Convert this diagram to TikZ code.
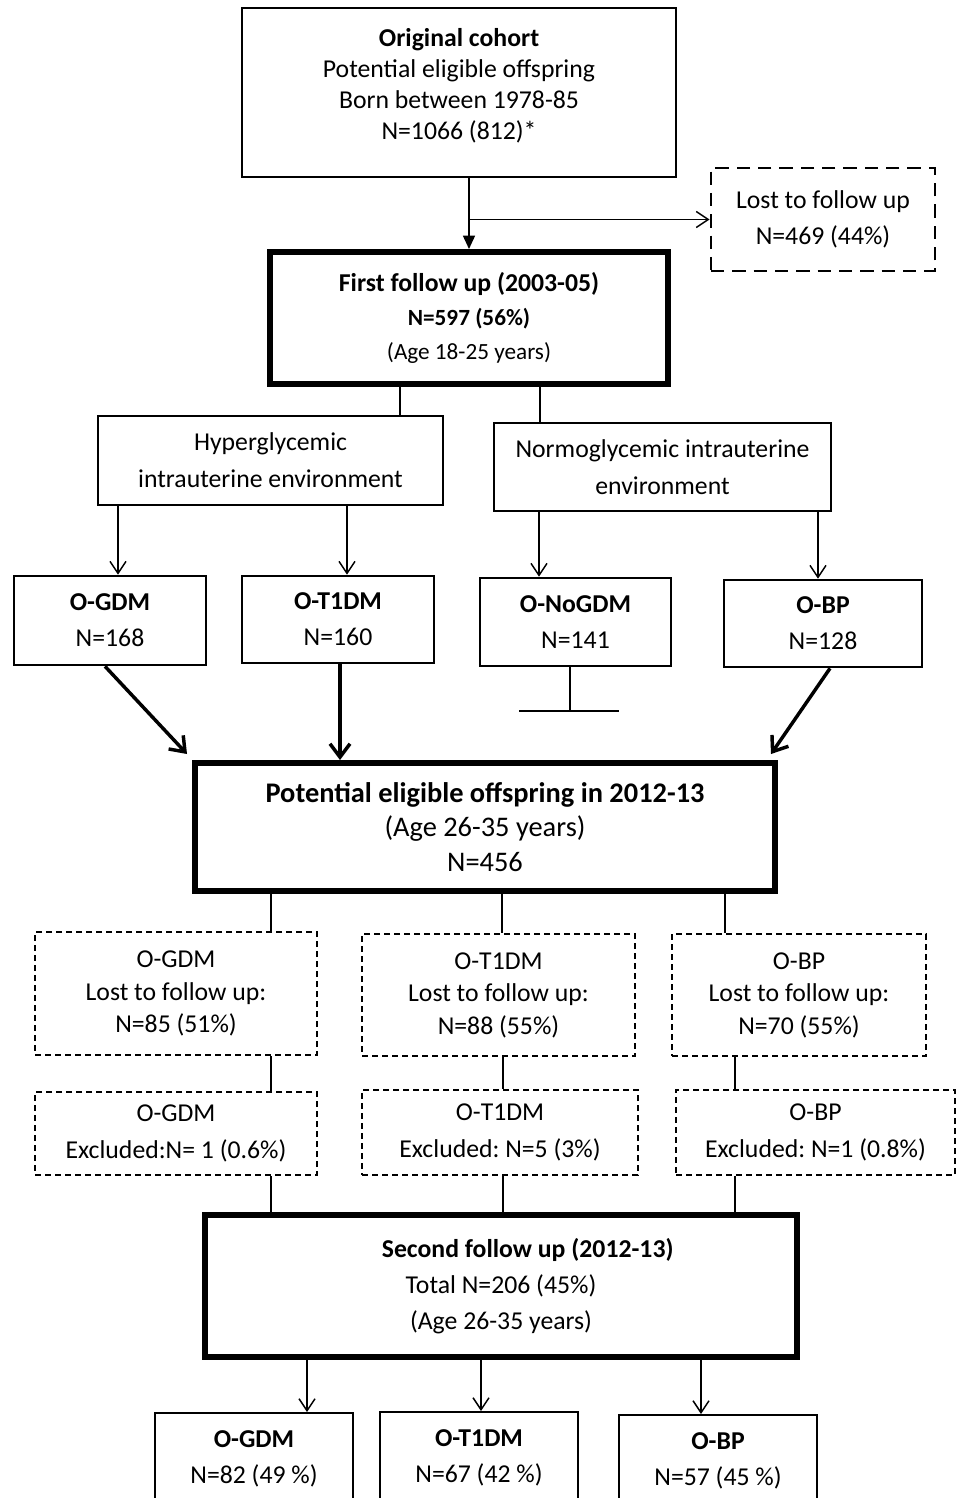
\documentclass[tikz,border=0pt]{standalone}
\usepackage{fontspec}
\setmainfont{Carlito}
\usetikzlibrary{arrows.meta,calc}
\frenchspacing

\begin{document}
\begin{tikzpicture}[x=0.75pt,y=-0.75pt,line width=1.1pt,
  sz/.style 2 args={minimum width=#1*0.75pt,minimum height=#2*0.75pt},
  box/.style={draw,line width=2pt,inner sep=0pt,align=center,font=\fontsize{19.3}{27}\selectfont},
  heavy/.style={box,line width=4.5pt},
  lostbox/.style={box,line width=1.4pt,dash pattern=on 4.5pt off 3pt},
  arr/.style={-{Straight Barb[length=9pt,width=12pt]}},
  bigarr/.style={line width=2.6pt,-{Straight Barb[length=10pt,width=15pt]}}]
\path[use as bounding box] (0,0) rectangle (956,1498);
\clip (0,0) rectangle (956,1498);
% first follow up
\node[box,line width=1.7pt,sz={434}{169},font=\fontsize{19.3}{23.25}\selectfont] (orig) at (459,92.5) {\textbf{Original cohort}\\Potential eligible offspring\\Born between 1978-85\\N=1066 (812)*\\[-11pt]\mbox{}};
\node[box,line width=2.2pt,dash pattern=on 10pt off 6pt,sz={224}{103}] (lost) at (823,219.5) {Lost to follow up\\N=469 (44\%)};
\node[heavy,sz={398}{132},font=\fontsize{17.4}{25.5}\selectfont] (first) at (469,318) {{\fontsize{19.3}{25.5}\selectfont\textbf{First follow up (2003-05)}}\\\textbf{N=597 (56\%)}\\(Age 18-25 years)};
\draw[-{Triangle[length=10pt,width=9pt]}] (first.north |- orig.south) -- (first.north);
\draw[arr] (first.north |- lost.west) -- (lost.west);
% intrauterine environment
\node[box,line width=1.5pt,sz={345}{89},font=\fontsize{19.3}{27.75}\selectfont] (hyp) at (270.5,460.5) {Hyperglycemic\\intrauterine environment};
\node[box,line width=1.5pt,sz={337}{88},font=\fontsize{19.3}{27.75}\selectfont] (nor) at (662.5,467) {Normoglycemic intrauterine\\environment};
\draw (400,0 |- first.south) -- (400,0 |- hyp.north);
\draw (540,0 |- first.south) -- (540,0 |- nor.north);
\node[box,sz={192}{89}] (gdm) at (110,620.5) {\textbf{O-GDM}\\N=168};
\node[box,sz={192}{87}] (t1dm) at (338,619.5) {\textbf{O-T1DM}\\N=160};
\node[box,sz={191}{88}] (nogdm) at (575.5,622) {\textbf{O-NoGDM}\\N=141};
\node[box,sz={198}{87}] (bp) at (823,623.5) {\textbf{O-BP}\\N=128};
\draw[arr] (118,0 |- hyp.south) -- (118,0 |- gdm.north);
\draw[arr] (347,0 |- hyp.south) -- (347,0 |- t1dm.north);
\draw[arr] (539,0 |- nor.south) -- (539,0 |- nogdm.north);
\draw[arr] (818,0 |- nor.south) -- (818,0 |- bp.north);
\coordinate (stop) at (570,711);
\draw (nogdm.south -| stop) -- (stop);
\draw ($(stop)+(-51,0)$) -- ($(stop)+(49,0)$);
% 2012-13
\node[heavy,sz={580}{128},font=\fontsize{21.3}{25.9}\selectfont] (pot) at (485,827) {\textbf{Potential eligible offspring in 2012-13}\\(Age 26-35 years)\\N=456};
\draw[bigarr] (105,0 |- gdm.south) -- ($(pot.north west)+(-5,-6)$);
\draw[bigarr] (340,0 |- t1dm.south) -- (340,0 |- pot.north);
\draw[bigarr] (830,0 |- bp.south) -- ($(pot.north east)+(-7,-6)$);
\node[lostbox,sz={282}{123},font=\fontsize{19.3}{24.4}\selectfont] (lgdm) at (176,993.5) {O-GDM\\Lost to follow up:\\N=85 (51\%)};
\node[lostbox,sz={273}{122},font=\fontsize{19.3}{24.4}\selectfont] (lt1dm) at (498.5,995) {O-T1DM\\Lost to follow up:\\N=88 (55\%)};
\node[lostbox,sz={254}{122},font=\fontsize{19.3}{24.4}\selectfont] (lbp) at (799,995) {O-BP\\Lost to follow up:\\N=70 (55\%)};
\node[lostbox,sz={282}{83},font=\fontsize{19.3}{27.75}\selectfont] (xgdm) at (176,1133.5) {O-GDM\\Excluded:N= 1 (0.6\%)};
\node[lostbox,sz={276}{85},font=\fontsize{19.3}{27.75}\selectfont] (xt1dm) at (500,1132.5) {O-T1DM\\Excluded: N=5 (3\%)};
\node[lostbox,sz={279}{85},font=\fontsize{19.3}{27.75}\selectfont] (xbp) at (815.5,1132.5) {O-BP\\Excluded: N=1 (0.8\%)};
\draw (271,0 |- pot.south) -- (271,0 |- lgdm.north);
\draw (502,0 |- pot.south) -- (502,0 |- lt1dm.north);
\draw (725,0 |- pot.south) -- (725,0 |- lbp.north);
\draw (271,0 |- lgdm.south) -- (271,0 |- xgdm.north);
\draw (503,0 |- lt1dm.south) -- (503,0 |- xt1dm.north);
\draw (735,0 |- lbp.south) -- (735,0 |- xbp.north);
% second follow up
\node[box,line width=4.2pt,sz={592}{142}] (second) at (501,1286) {\hspace*{40pt}\textbf{Second follow up (2012-13)}\\Total N=206 (45\%)\\(Age 26-35 years)};
\draw (271,0 |- xgdm.south) -- (271,0 |- second.north);
\draw (503,0 |- xt1dm.south) -- (503,0 |- second.north);
\draw (735,0 |- xbp.south) -- (735,0 |- second.north);
\node[box,line width=1.5pt,sz={198}{92}] (fgdm) at (254,1459) {\textbf{O-GDM}\\N=82 (49 \%)};
\node[box,line width=1.5pt,sz={198}{92}] (ft1dm) at (479,1458) {\textbf{O-T1DM}\\N=67 (42 \%)};
\node[box,line width=1.5pt,sz={198}{92}] (fbp) at (718,1461) {\textbf{O-BP}\\N=57 (45 \%)};
\draw[arr] (307,0 |- second.south) -- (307,0 |- fgdm.north);
\draw[arr] (481,0 |- second.south) -- (481,0 |- ft1dm.north);
\draw[arr] (701,0 |- second.south) -- (701,0 |- fbp.north);
\end{tikzpicture}
\end{document}
